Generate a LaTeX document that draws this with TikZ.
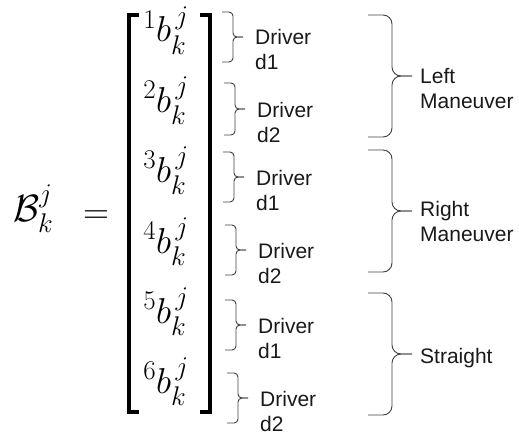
\RequirePackage{fix-cm}
\documentclass[tikz,border=0pt]{standalone}
\usepackage{amsmath}
\usepackage{amssymb}
\usepackage{fontspec}
\setmainfont{Liberation Sans}
\DeclareMathSizes{36}{36}{27}{19}
\DeclareMathSizes{38}{38}{27}{20}

\tikzset{
  entry/.style={anchor=base, inner sep=0pt, font=\fontsize{36}{42}\selectfont},
  lbl/.style={anchor=base west, inner sep=0pt, font=\fontsize{21}{25}\selectfont, text=black!90},
  brc/.style={draw=black!75, line width=0.9pt, rounded corners=4pt},
}

\begin{document}
\begin{tikzpicture}[x=1pt,y=-1pt]
    \useasboundingbox (0,0) rectangle (519,436);
    % left-hand side
    \node[entry, anchor=base west, font=\fontsize{38}{44}\selectfont] (B) at (13,221) {$\mathcal{B}_k^j$};
    \node[entry] (eq) at (96,223) {$=$};
    % column vector
    \foreach \i/\y in {1/42,2/112,3/182,4/253,5/323,6/393}
        \node[entry] (e\i) at (166,\y) {${}^{\i}b_k^{\,j}$};
    \draw[line width=3.5pt] (139,15) -- (129,15) -- (129,412) -- (139,412);
    \draw[line width=3.5pt] (200,15) -- (210,15) -- (210,412) -- (200,412);
    % driver braces
    \foreach \i/\t/\b/\dx/\d in {1/12/62/0/1,2/83/135/2/2,3/152/202/1/1,4/225/275/3/2,5/300/350/3/1,6/373/423/5/2} {
        \pgfmathsetmacro\m{(\t+\b)/2}
        \coordinate (st\i) at (222+\dx,\t);
        \coordinate (sb\i) at (222+\dx,\b);
        \coordinate (sm\i) at (233+\dx,\m);
        \coordinate (sp\i) at (243+\dx,\m);
        \draw[brc] (st\i) -- (st\i -| sm\i) -- (sm\i) -- (sp\i);
        \draw[brc] (sb\i) -- (sb\i -| sm\i) -- (sm\i) -- (sp\i);
        \node[lbl] (drv\i) at (255+\dx,\m+8) {Driver};
        \node[lbl] (dn\i) at (255+\dx,\m+33) {d\d};
    }
    % manoeuvre braces
    \foreach \n/\t/\b in {L/15/137,R/150/272,S/293/415} {
        \pgfmathsetmacro\m{(\t+\b)/2}
        \coordinate (bt\n) at (368,\t);
        \coordinate (bb\n) at (368,\b);
        \coordinate (bm\n) at (392,\m);
        \coordinate (bp\n) at (412,\m);
        \draw[brc, rounded corners=9pt] (bt\n) -- (bt\n -| bm\n) -- (bm\n) -- (bp\n);
        \draw[brc, rounded corners=9pt] (bb\n) -- (bb\n -| bm\n) -- (bm\n) -- (bp\n);
    }
    \node[lbl] (left) at (420,83) {Left};
    \node[lbl] (lman) at (420,108) {Maneuver};
    \node[lbl] (right) at (420,216) {Right};
    \node[lbl] (rman) at (420,241) {Maneuver};
    \node[lbl] (straight) at (420,363) {Straight};
\end{tikzpicture}
\end{document}
